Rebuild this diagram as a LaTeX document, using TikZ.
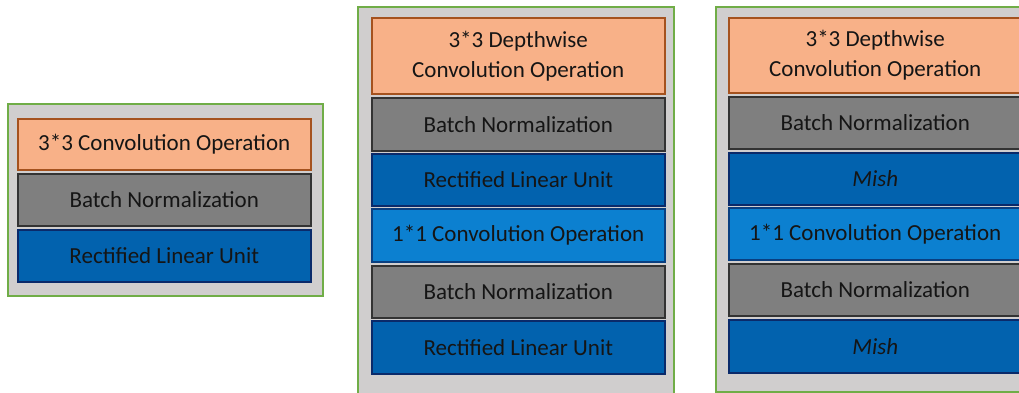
\documentclass[tikz,border=0pt]{standalone}
\usepackage{fontspec}
\setmainfont{Carlito}
\definecolor{panelfill}{HTML}{D0CECE}
\definecolor{panelline}{HTML}{70AD47}
\definecolor{orfill}{HTML}{F8B188}
\definecolor{orline}{HTML}{A5521E}
\definecolor{grfill}{HTML}{7F7F7F}
\definecolor{grline}{HTML}{333333}
\definecolor{dbfill}{HTML}{0262AE}
\definecolor{dbline}{HTML}{0A2A6A}
\definecolor{lbfill}{HTML}{0C80D0}
\definecolor{lbline}{HTML}{0A3F80}
\definecolor{txt}{HTML}{151515}
\tikzset{
  panel/.style={draw=panelline, fill=panelfill, line width=1.5pt, anchor=north west, inner sep=0pt, minimum width=316pt},
  layer/.style={anchor=north west, inner sep=0pt, line width=1.5pt, minimum width=293pt, text=txt, font=\fontsize{23}{30}\selectfont, align=center},
  conv/.style={layer, draw=orline, fill=orfill},
  bn/.style={layer, draw=grline, fill=grfill},
  act/.style={layer, draw=dbline, fill=dbfill},
  pw/.style={layer, draw=lbline, fill=lbfill},
}
\begin{document}
\begin{tikzpicture}[x=1pt, y=-1pt]
\useasboundingbox (0,0) rectangle (1019,392);
% panel 1
\node[panel, minimum width=315pt, minimum height=192pt] (p1) at (7,103) {};
\node[conv, minimum height=51pt] (a1) at (17,118) {3*3 Convolution Operation};
\node[bn, minimum height=52pt] (a2) at (17,173) {Batch Normalization};
\node[act, minimum height=52pt] (a3) at (17,229) {Rectified Linear Unit};
% panel 2
\node[panel, minimum height=400pt] (p2) at (357,6) {};
\node[conv, minimum height=76pt] (b1) at (371,17) {3*3 Depthwise\\Convolution Operation};
\node[bn, minimum height=53pt] (b2) at (371,97) {Batch Normalization};
\node[act, minimum height=52pt] (b3) at (371,153) {Rectified Linear Unit};
\node[pw, minimum height=53pt] (b4) at (371,208) {1*1 Convolution Operation};
\node[bn, minimum height=52pt] (b5) at (371,265) {Batch Normalization};
\node[act, minimum height=53pt] (b6) at (371,320) {Rectified Linear Unit};
% panel 3
\node[panel, minimum height=385pt] (p3) at (715,6) {};
\node[conv, minimum height=75pt] (c1) at (728,17) {3*3 Depthwise\\Convolution Operation};
\node[bn, minimum height=52pt] (c2) at (728,96) {Batch Normalization};
\node[act, minimum height=52pt] (c3) at (728,152) {\itshape Mish};
\node[pw, minimum height=52pt] (c4) at (728,207) {1*1 Convolution Operation};
\node[bn, minimum height=52pt] (c5) at (728,263) {Batch Normalization};
\node[act, minimum height=53pt] (c6) at (728,319) {\itshape Mish};
\end{tikzpicture}
\end{document}
